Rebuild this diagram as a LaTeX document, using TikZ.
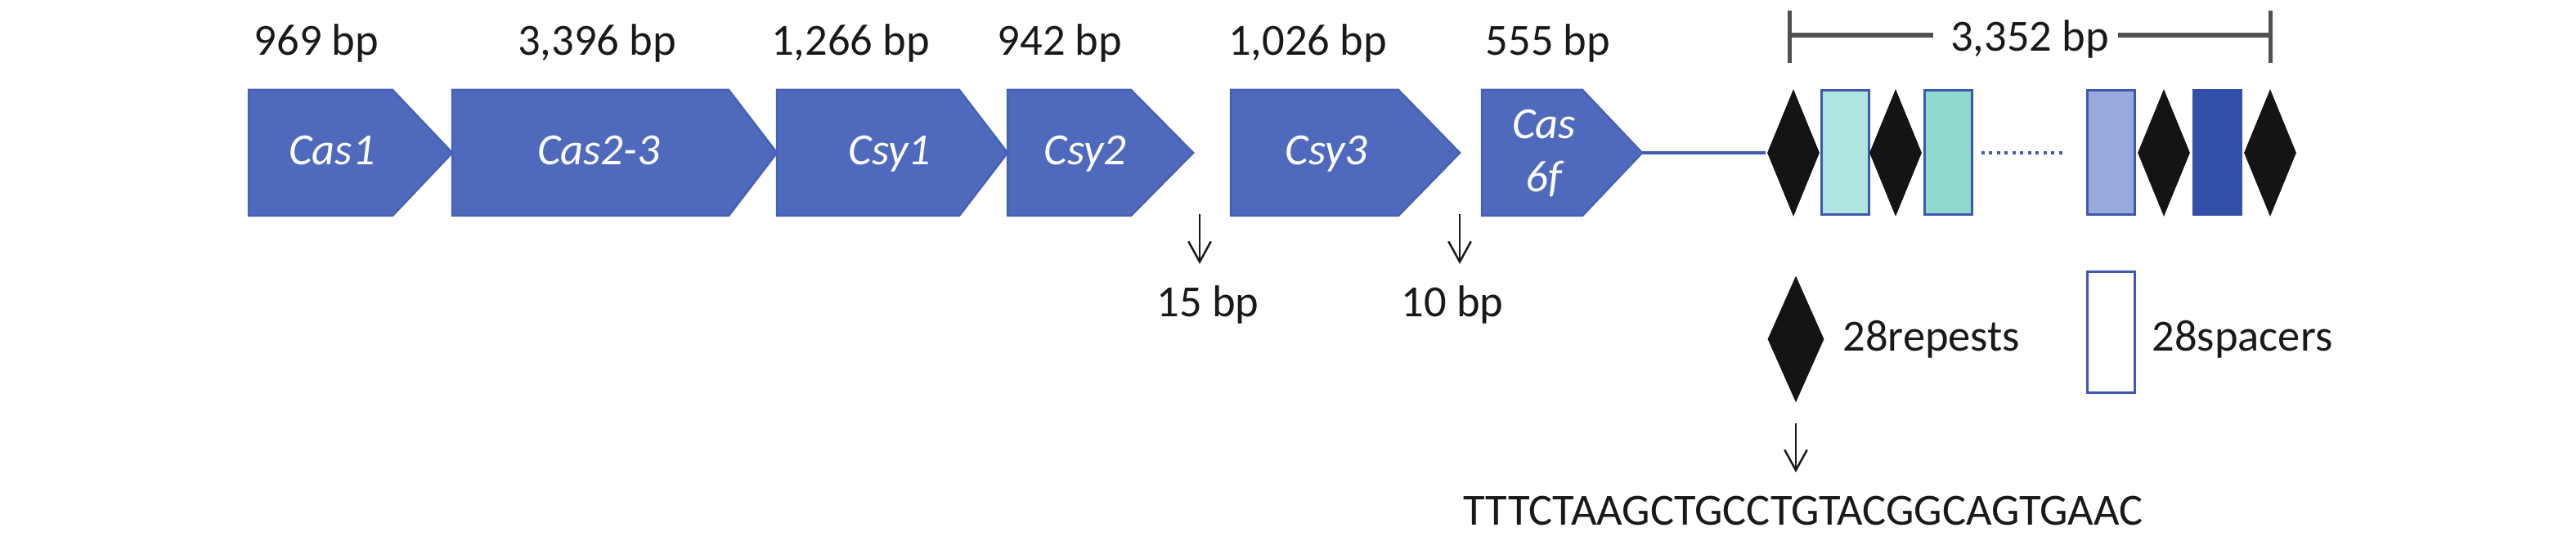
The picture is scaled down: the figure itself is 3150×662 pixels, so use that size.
\documentclass[tikz,border=0pt]{standalone}
\usepackage{fontspec}
\setmainfont{Carlito}
\usetikzlibrary{shapes.geometric,arrows.meta}

\definecolor{geneblue}{RGB}{79,106,189}
\definecolor{geneedge}{RGB}{70,96,182}
\definecolor{linkblue}{RGB}{66,90,180}
\definecolor{repblack}{RGB}{20,20,20}
\definecolor{spaceredge}{RGB}{62,88,176}
\definecolor{spfillA}{RGB}{176,228,222}
\definecolor{spfillB}{RGB}{142,217,204}
\definecolor{spfillC}{RGB}{152,170,221}
\definecolor{spfillD}{RGB}{51,80,168}
\definecolor{dimgray}{RGB}{80,80,80}
\definecolor{txtblack}{RGB}{25,25,25}

\tikzset{every picture/.style={line width=0.6pt}}

\begin{document}
\begin{tikzpicture}[x=0.2pt,y=0.2pt,yscale=-1,
	font=\fontsize{10.9}{13}\selectfont,
	gene/.style={fill=geneblue,draw=geneedge,line width=0.5pt},
	genelbl/.style={anchor=base,inner sep=0pt,text=white,font=\fontsize{10.9}{13}\selectfont\itshape},
	bplbl/.style={anchor=base,inner sep=0pt,text=txtblack},
	repdiamond/.style={diamond,fill=repblack,inner sep=0pt,minimum width=13pt,minimum height=31.4pt},
	spacerbox/.style={rectangle,draw=spaceredge,line width=0.6pt,inner sep=0pt,minimum width=11.6pt,minimum height=30.4pt},
	gaparrow/.style={draw=txtblack,line width=0.5pt,-{Straight Barb[length=5pt,width=5.5pt]}}]
	\useasboundingbox (0,0) rectangle (3150,662);

	%Shape: Pentagon [Cas1]
	\draw [gene] (304,110) -- (480,110) -- (553,187) -- (480,264) -- (304,264) -- cycle ;
	%Shape: Pentagon [Cas2-3]
	\draw [gene] (553,110) -- (891,110) -- (950,187) -- (891,264) -- (553,264) -- cycle ;
	%Shape: Pentagon [Csy1]
	\draw [gene] (950,110) -- (1173,110) -- (1232,187) -- (1173,264) -- (950,264) -- cycle ;
	%Shape: Pentagon [Csy2]
	\draw [gene] (1232,110) -- (1383,110) -- (1459,187) -- (1383,264) -- (1232,264) -- cycle ;
	%Shape: Pentagon [Csy3]
	\draw [gene] (1505,110) -- (1710,110) -- (1785,187) -- (1710,264) -- (1505,264) -- cycle ;
	%Shape: Pentagon [Cas6f]
	\draw [gene] (1812,110) -- (1935,110) -- (2008,187) -- (1935,264) -- (1812,264) -- cycle ;
	\coordinate (tipCasSixf) at (2008,187) ;

	% Text Node
	\node [genelbl] (lblCasOne) at (406,202) {Cas1};
	\node [genelbl] (lblCasTwo) at (732,202) {Cas2-3};
	\node [genelbl] (lblCsyOne) at (1088,202) {Csy1};
	\node [genelbl] (lblCsyTwo) at (1327,202) {Csy2};
	\node [genelbl] (lblCsyThree) at (1622,202) {Csy3};
	\node [genelbl,anchor=center,align=center] (lblCasSixf) at (1888,188) {Cas\\6f};

	% Text Node
	\node [bplbl] (bpCasOne) at (387,68) {969 bp};
	\node [bplbl] (bpCasTwo) at (730,68) {3,396 bp};
	\node [bplbl] (bpCsyOne) at (1040,68) {1,266 bp};
	\node [bplbl] (bpCsyTwo) at (1296,68) {942 bp};
	\node [bplbl] (bpCsyThree) at (1599,68) {1,026 bp};
	\node [bplbl] (bpCasSixf) at (1893,68) {555 bp};

	%CRISPR array
	\node [repdiamond] (rep1) at (2193,187) {};
	\node [spacerbox,fill=spfillA] (sp1) at (2256,187) {};
	\node [repdiamond] (rep2) at (2318,187) {};
	\node [spacerbox,fill=spfillB] (sp2) at (2382,187) {};
	\node [spacerbox,fill=spfillC] (sp3) at (2581,187) {};
	\node [repdiamond] (rep3) at (2646,187) {};
	\node [spacerbox,fill=spfillD,draw=spfillD] (sp4) at (2711,187) {};
	\node [repdiamond] (rep4) at (2776,187) {};

	%Straight Lines
	\draw [linkblue,line width=0.7pt] (tipCasSixf) -- (rep1) ;
	\draw [linkblue,line width=0.9pt,dash pattern=on 0.8pt off 1.1pt] ([xshift=2pt]sp2.east) -- ([xshift=-5pt]sp3.west) ;

	%Dimension line
	\node [bplbl] (dimlbl) at (2482,63) {3,352 bp};
	\coordinate (dimL) at (2188,43) ;
	\coordinate (dimR) at (2776,43) ;
	\draw [dimgray,line width=1pt] (2188,13) -- (2188,77) ;
	\draw [dimgray,line width=1pt] (2776,13) -- (2776,77) ;
	\draw [dimgray,line width=1.2pt] (dimL) -- ([xshift=-4pt]dimlbl.west |- dimL) ;
	\draw [dimgray,line width=1.2pt] ([xshift=2pt]dimlbl.east |- dimR) -- (dimR) ;

	%Gap arrows
	\coordinate (gapOneTop) at (1467,262) ;
	\coordinate (gapOneBot) at (1467,323) ;
	\coordinate (gapTwoTop) at (1785,262) ;
	\coordinate (gapTwoBot) at (1785,323) ;
	\draw [gaparrow] (gapOneTop) -- (gapOneBot) ;
	\draw [gaparrow] (gapTwoTop) -- (gapTwoBot) ;
	\node [bplbl] (gapOneLbl) at (1477,388) {15 bp};
	\node [bplbl] (gapTwoLbl) at (1776,388) {10 bp};

	%Legend
	\node [repdiamond,minimum width=14pt,minimum height=31.2pt] (repL) at (2196,415) {};
	\node [bplbl,anchor=base west] (repLbl) at (2252,430) {28repests};
	\node [spacerbox,fill=white,minimum height=29.6pt] (spL) at (2581,407) {};
	\node [bplbl,anchor=base west] (spLbl) at (2630,430) {28spacers};

	%Repeat sequence
	\coordinate (seqTop) at (2196,518) ;
	\coordinate (seqBot) at (2196,578) ;
	\draw [gaparrow] (seqTop) -- (seqBot) ;
	\node [bplbl] (seqLbl) at (2205,643) {TTTCTAAGCTGCCTGTACGGCAGTGAAC};

\end{tikzpicture}
\end{document}
